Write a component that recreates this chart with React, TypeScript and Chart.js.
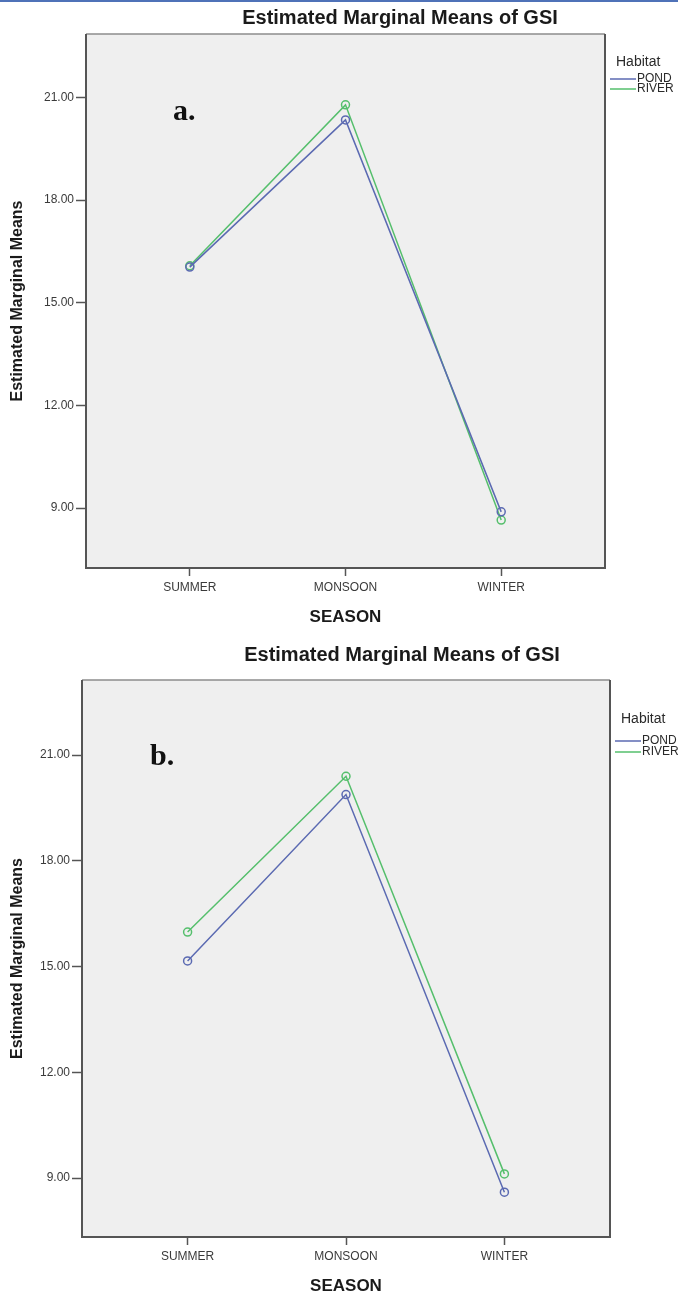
import React, { useEffect, useRef } from "react";
import { Chart, registerables } from "chart.js";

Chart.register(...registerables);

// ---- data ----
const categories = ["SUMMER", "MONSOON", "WINTER"];
const yTickValues = [9, 12, 15, 18, 21];
const seriesNames = ["POND", "RIVER"];
const pondA = [16.04, 20.34, 8.89];
const riverA = [16.08, 20.78, 8.65];
const pondB = [15.16, 19.88, 8.6];
const riverB = [15.98, 20.4, 9.12];
const chartTitle = "Estimated Marginal Means of GSI";
const legendTitle = "Habitat";
const xTitle = "SEASON";
const yTitle = "Estimated Marginal Means";
const panelTags = ["a.", "b."];

const POND_COLOR = "#5b6ab2";
const RIVER_COLOR = "#55bf6c";
const FONT = "Arial, 'Liberation Sans', sans-serif";

type Panel = {
  top: number;
  height: number;
  box: { left: number; right: number; top: number; bottom: number };
  yMin: number;
  yMax: number;
  titleX: number;
  titleY: number;
  legendX: number;
  legendY: number;
  rowOffset: number;
  rowGap: number;
  tag: string;
  tagX: number;
  tagY: number;
  xTitlePad: number;
  pond: number[];
  river: number[];
};

const panels: Panel[] = [
  {
    top: 0,
    height: 645,
    box: { left: 86, right: 605, top: 34, bottom: 568 },
    yMin: 7.25,
    yMax: 22.85,
    titleX: 400,
    titleY: 18,
    legendX: 610,
    legendY: 62,
    rowOffset: 17,
    rowGap: 10,
    tag: panelTags[0],
    tagX: 173,
    tagY: 112,
    xTitlePad: 17,
    pond: pondA,
    river: riverA,
  },
  {
    top: 645,
    height: 653,
    box: { left: 82, right: 610, top: 35, bottom: 592 },
    yMin: 7.33,
    yMax: 23.13,
    titleX: 402,
    titleY: 10,
    legendX: 615,
    legendY: 74,
    rowOffset: 22,
    rowGap: 11,
    tag: panelTags[1],
    tagX: 150,
    tagY: 112,
    xTitlePad: 1,
    pond: pondB,
    river: riverB,
  },
];

function ChartPanel({ panel }: { panel: Panel }) {
  const ref = useRef<HTMLCanvasElement | null>(null);
  useEffect(() => {
    const canvas = ref.current;
    if (!canvas) return;
    const W = 678;
    const box = panel.box;
    const decor = {
      id: "decor",
      beforeDatasetsDraw(chart: any) {
        const { ctx, chartArea } = chart;
        ctx.save();
        ctx.fillStyle = "#efefef";
        ctx.fillRect(chartArea.left, chartArea.top, chartArea.right - chartArea.left, chartArea.bottom - chartArea.top);
        // frame
        ctx.strokeStyle = "#8c8c8c";
        ctx.lineWidth = 1.5;
        ctx.beginPath();
        ctx.moveTo(chartArea.left, chartArea.top);
        ctx.lineTo(chartArea.right, chartArea.top);
        ctx.stroke();
        ctx.strokeStyle = "#555555";
        ctx.lineWidth = 2;
        ctx.beginPath();
        ctx.moveTo(chartArea.left, chartArea.top);
        ctx.lineTo(chartArea.left, chartArea.bottom);
        ctx.lineTo(chartArea.right, chartArea.bottom);
        ctx.lineTo(chartArea.right, chartArea.top);
        ctx.stroke();
        // panel tag
        ctx.fillStyle = "#111111";
        ctx.font = "bold 30px 'Liberation Serif', 'DejaVu Serif', serif";
        ctx.textAlign = "left";
        ctx.textBaseline = "middle";
        ctx.fillText(panel.tag, panel.tagX, panel.tagY);
        ctx.restore();
      },
      afterDraw(chart: any) {
        const { ctx } = chart;
        ctx.save();
        // chart title
        ctx.fillStyle = "#1a1a1a";
        ctx.font = `bold 20px ${FONT}`;
        ctx.textAlign = "center";
        ctx.textBaseline = "middle";
        ctx.fillText(chartTitle, panel.titleX, panel.titleY);
        // legend
        ctx.textAlign = "left";
        ctx.font = `14px ${FONT}`;
        ctx.fillStyle = "#2a2a2a";
        ctx.fillText(legendTitle, panel.legendX + 6, panel.legendY);
        const colors = [POND_COLOR, RIVER_COLOR];
        ctx.font = `12px ${FONT}`;
        seriesNames.forEach((name, i) => {
          const y = panel.legendY + panel.rowOffset + i * panel.rowGap;
          ctx.strokeStyle = colors[i];
          ctx.lineWidth = 1.5;
          ctx.beginPath();
          ctx.moveTo(panel.legendX, y);
          ctx.lineTo(panel.legendX + 26, y);
          ctx.stroke();
          ctx.fillStyle = "#2a2a2a";
          ctx.fillText(name, panel.legendX + 27, y);
        });
        ctx.restore();
      },
    };

    const tickFont = { family: FONT, size: 12 };
    const mkDataset = (label: string, values: number[], color: string) => ({
      label,
      data: values.map((v, i) => ({ x: i, y: v })),
      borderColor: color,
      backgroundColor: "rgba(0,0,0,0)",
      borderWidth: 1.5,
      pointRadius: 4,
      pointBorderWidth: 1.5,
      pointBorderColor: color,
      pointBackgroundColor: "rgba(0,0,0,0)",
      tension: 0,
    });
    const chart = new Chart(canvas, {
      type: "line",
      data: {
        datasets: [
          mkDataset(seriesNames[0], panel.pond, POND_COLOR),
          mkDataset(seriesNames[1], panel.river, RIVER_COLOR),
        ],
      },
      options: {
        responsive: false,
        animation: false,
        devicePixelRatio: 1,
        layout: { padding: { left: 0, top: box.top, right: W - box.right, bottom: 0 } },
        plugins: { legend: { display: false }, title: { display: false }, tooltip: { enabled: false } },
        scales: {
          x: {
            type: "linear",
            min: -2 / 3,
            max: 8 / 3,
            afterBuildTicks: (s: any) => {
              s.ticks = categories.map((_, i) => ({ value: i }));
            },
            afterFit: (s: any) => {
              s.height = panel.height - box.bottom;
            },
            ticks: {
              callback: (v: any) => categories[Math.round(Number(v))] ?? "",
              autoSkip: false,
              maxRotation: 0,
              font: tickFont,
              color: "#3a3a3a",
              padding: 4,
            },
            grid: { drawOnChartArea: false, drawTicks: true, tickLength: 8, tickColor: "#555555", tickWidth: 1.5 },
            border: { display: false },
            title: {
              display: true,
              text: xTitle,
              color: "#1a1a1a",
              font: { family: FONT, size: 17, weight: "bold" },
              padding: { top: 0, bottom: panel.xTitlePad },
            },
          },
          y: {
            type: "linear",
            min: panel.yMin,
            max: panel.yMax,
            afterBuildTicks: (s: any) => {
              s.ticks = yTickValues.map((v) => ({ value: v }));
            },
            afterFit: (s: any) => {
              s.width = box.left;
            },
            ticks: {
              callback: (v: any) => Number(v).toFixed(2),
              font: tickFont,
              color: "#3a3a3a",
              padding: 2,
            },
            grid: { drawOnChartArea: false, drawTicks: true, tickLength: 10, tickColor: "#555555", tickWidth: 1.5 },
            border: { display: false },
            title: {
              display: true,
              text: yTitle,
              color: "#1a1a1a",
              font: { family: FONT, size: 16, weight: "bold" },
              padding: { top: 8, bottom: 0 },
            },
          },
        },
      },
      plugins: [decor],
    } as any);
    return () => chart.destroy();
  }, [panel]);

  return (
    <canvas
      ref={ref}
      width={678}
      height={panel.height}
      style={{ position: "absolute", left: 0, top: panel.top, width: 678, height: panel.height }}
    />
  );
}

export default function App() {
  return (
    <div style={{ position: "absolute", left: 0, top: 0, width: 678, height: 1298, background: "#ffffff", overflow: "hidden" }}>
      {panels.map((p, i) => (
        <ChartPanel key={i} panel={p} />
      ))}
      <div style={{ position: "absolute", left: 0, top: 0, width: 678, height: 2, background: "#4f72b8" }} />
    </div>
  );
}
